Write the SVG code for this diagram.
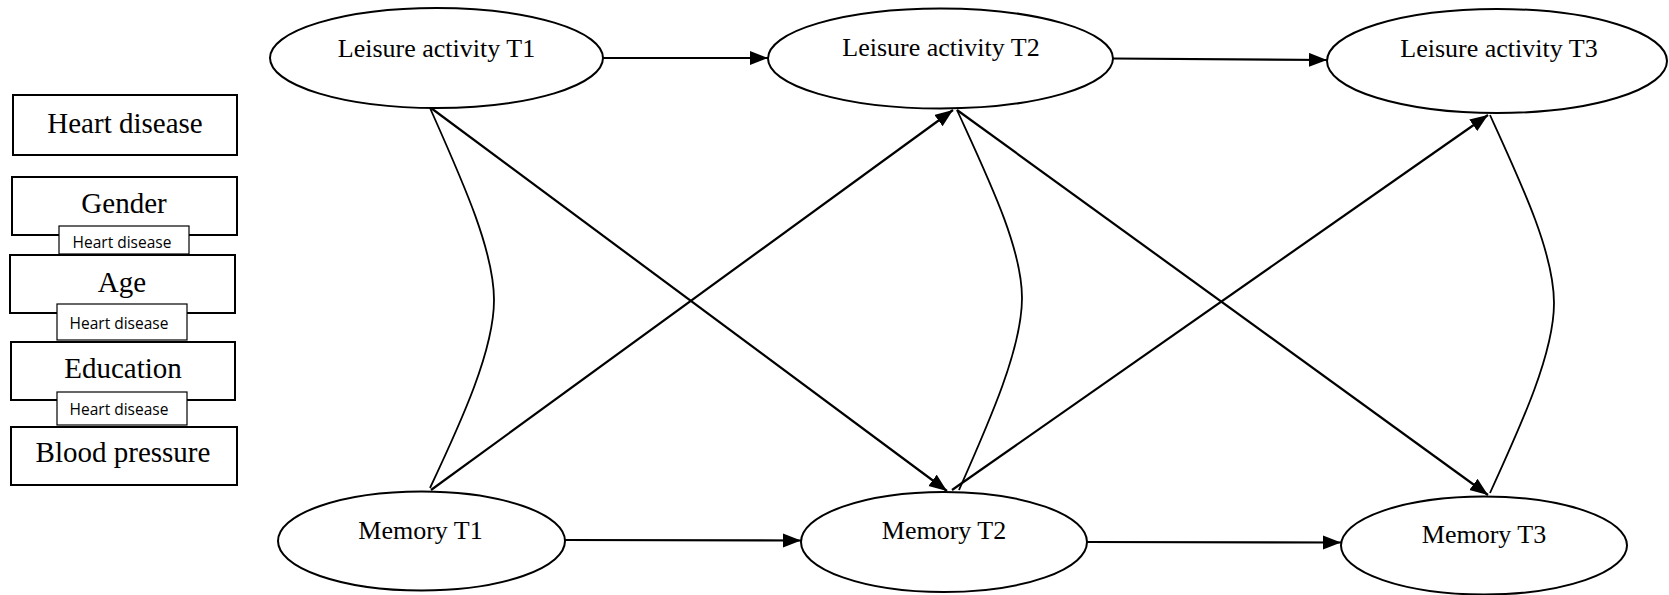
<svg xmlns="http://www.w3.org/2000/svg" width="1669" height="595" viewBox="0 0 1669 595">
  <style>
    .node { fill: #fff; stroke: #000; stroke-width: 2; }
    .tag { fill: #fff; stroke: #000; stroke-width: 1.2; }
    .lbl { font-family: "Liberation Serif", "Times New Roman", serif; font-size: 26px; fill: #000; text-anchor: middle; }
    .blbl { font-family: "Liberation Serif", "Times New Roman", serif; font-size: 29px; fill: #000; text-anchor: middle; }
    .slbl { font-family: "Open Sans", "Liberation Sans", sans-serif; font-size: 15.5px; fill: #000; text-anchor: middle; }
    .arrow { fill: none; stroke: #000; stroke-width: 2.2; marker-end: url(#head); }
    .cov { fill: none; stroke: #000; stroke-width: 1.8; }
  </style>
  <defs>
    <marker id="head" markerUnits="userSpaceOnUse" markerWidth="19" markerHeight="15" refX="18" refY="7" orient="auto">
      <path d="M0,0 L18,7 L0,14 z" fill="#000"/>
    </marker>
  </defs>
  <rect width="1669" height="595" fill="#fff"/>

  <!-- covariate boxes -->
  <g id="heart-disease">
    <rect class="node" x="13" y="95" width="224" height="60"/>
    <text class="blbl" x="125" y="133">Heart disease</text>
  </g>
  <g id="gender">
    <rect class="node" x="12" y="177" width="225" height="58"/>
    <text class="blbl" x="124" y="213">Gender</text>
  </g>
  <g id="tag-1">
    <rect class="tag" x="59" y="226" width="130" height="28"/>
    <text class="slbl" x="122" y="248">Heart disease</text>
  </g>
  <g id="age">
    <rect class="node" x="10" y="255" width="225" height="58"/>
    <text class="blbl" x="122" y="292">Age</text>
  </g>
  <g id="tag-2">
    <rect class="tag" x="57" y="304" width="130" height="36"/>
    <text class="slbl" x="119" y="329">Heart disease</text>
  </g>
  <g id="education">
    <rect class="node" x="11" y="342" width="224" height="58"/>
    <text class="blbl" x="123" y="378">Education</text>
  </g>
  <g id="tag-3">
    <rect class="tag" x="57" y="392" width="130" height="33"/>
    <text class="slbl" x="119" y="415">Heart disease</text>
  </g>
  <g id="blood-pressure">
    <rect class="node" x="11" y="427" width="226" height="58"/>
    <text class="blbl" x="123" y="462">Blood pressure</text>
  </g>

  <!-- latent variables -->
  <g id="leisure-t1">
    <ellipse class="node" cx="436.5" cy="58" rx="166.5" ry="50"/>
    <text class="lbl" x="436.5" y="57">Leisure activity T1</text>
  </g>
  <g id="leisure-t2">
    <ellipse class="node" cx="940.5" cy="58.5" rx="172.5" ry="50"/>
    <text class="lbl" x="941" y="56">Leisure activity T2</text>
  </g>
  <g id="leisure-t3">
    <ellipse class="node" cx="1497" cy="61" rx="170" ry="52"/>
    <text class="lbl" x="1499" y="57">Leisure activity T3</text>
  </g>
  <g id="memory-t1">
    <ellipse class="node" cx="421.5" cy="541" rx="143.5" ry="49.5"/>
    <text class="lbl" x="420.5" y="539">Memory T1</text>
  </g>
  <g id="memory-t2">
    <ellipse class="node" cx="944" cy="542" rx="143" ry="50"/>
    <text class="lbl" x="944" y="539">Memory T2</text>
  </g>
  <g id="memory-t3">
    <ellipse class="node" cx="1484" cy="545.5" rx="143" ry="49"/>
    <text class="lbl" x="1484" y="543">Memory T3</text>
  </g>

  <!-- paths -->
  <g id="connectors">
    <path class="arrow" d="M603,58 L768,58"/>
    <path class="arrow" d="M1113,58.5 L1327,60"/>
    <path class="arrow" d="M565,540 L801,540.5"/>
    <path class="arrow" d="M1087,542 L1341,542.5"/>

    <path class="arrow" d="M431,108 L947,491"/>
    <path class="arrow" d="M431,490 L953,110"/>
    <path class="arrow" d="M957,110 L1488,495"/>
    <path class="arrow" d="M952,490 L1488,115"/>

    <path class="cov" d="M430,108 C462,180 494,250 494,300 C494,350 462,420 430,488"/>
    <path class="cov" d="M957,110 C989,180 1022,248 1022,298 C1022,348 990,420 959,490"/>
    <path class="cov" d="M1490,115 C1522,185 1554,253 1554,303 C1554,353 1522,423 1490,493"/>
  </g>
</svg>
